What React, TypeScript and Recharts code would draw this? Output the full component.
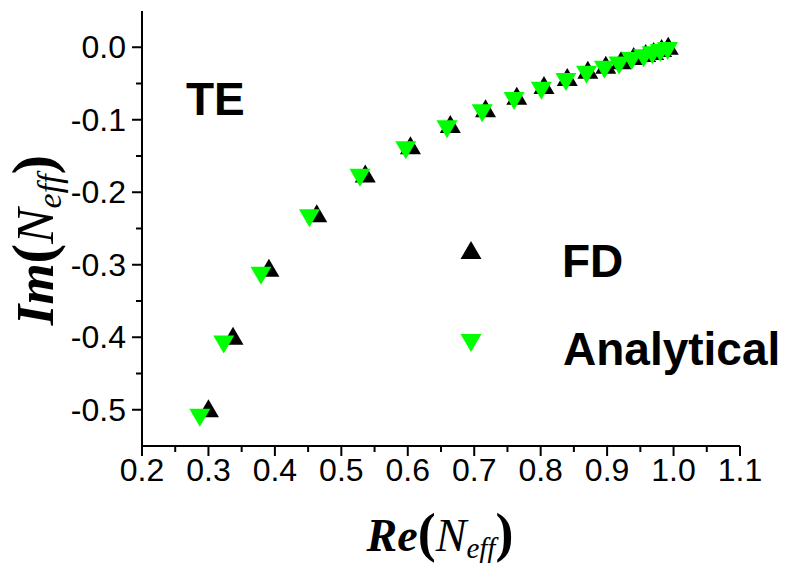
import React from 'react'
import { ScatterChart, Scatter, XAxis, YAxis } from 'recharts'

// FD (finite difference) results, black up-triangles
const fdRe = [0.300, 0.337, 0.391, 0.463, 0.536, 0.604, 0.664, 0.717, 0.764, 0.805, 0.840, 0.871, 0.898, 0.921, 0.940, 0.958, 0.970, 0.982, 0.992]
const fdIm = [-0.498, -0.398, -0.304, -0.229, -0.174, -0.135, -0.106, -0.084, -0.067, -0.052, -0.041, -0.031, -0.024, -0.018, -0.012, -0.008, -0.005, -0.001, 0.002]

// analytical results, green down-triangles
const anRe = [0.287, 0.323, 0.379, 0.452, 0.528, 0.597, 0.659, 0.712, 0.760, 0.801, 0.838, 0.869, 0.896, 0.918, 0.937, 0.955, 0.968, 0.980, 0.991]
const anIm = [-0.511, -0.410, -0.315, -0.236, -0.180, -0.142, -0.113, -0.091, -0.074, -0.060, -0.048, -0.038, -0.031, -0.025, -0.019, -0.015, -0.011, -0.008, -0.005]

const xTicks = [0.2, 0.25, 0.3, 0.35, 0.4, 0.45, 0.5, 0.55, 0.6, 0.65, 0.7, 0.75, 0.8, 0.85, 0.9, 0.95, 1.0, 1.05, 1.1]
const yTicks = [-0.5, -0.45, -0.4, -0.35, -0.3, -0.25, -0.2, -0.15, -0.1, -0.05, 0]

const seriesNames = ['FD', 'Analytical']
const seriesColors = ['#000000', '#00ff00']
const modeLabel = 'TE'

const fdData = fdRe.map((x, i) => ({ x, y: fdIm[i] }))
const anData = anRe.map((x, i) => ({ x, y: anIm[i] }))

const SANS = '"Liberation Sans", Arial, sans-serif'
const SERIF = '"Liberation Serif", "Times New Roman", serif'
const TRI_W = 21
const TRI_H = 18

function triPath(cx: number, cy: number, up: boolean) {
  const hw = TRI_W / 2
  const hh = TRI_H / 2
  return up
    ? `M${cx},${cy - hh}L${cx + hw},${cy + hh}L${cx - hw},${cy + hh}Z`
    : `M${cx},${cy + hh}L${cx + hw},${cy - hh}L${cx - hw},${cy - hh}Z`
}

const isMajor = (v: number) => Math.abs(v * 10 - Math.round(v * 10)) < 1e-6

function XTick({ x, y, payload }: any) {
  const major = isMajor(payload.value)
  return (
    <g>
      <line x1={x} x2={x} y1={y} y2={y + (major ? 10 : 6)} stroke="#000" strokeWidth={2} />
      {major && (
        <text x={x} y={y + 35} textAnchor="middle" fontSize={32} fontFamily={SANS} fill="#000">
          {payload.value.toFixed(1)}
        </text>
      )}
    </g>
  )
}

function YTick({ x, y, payload }: any) {
  const major = isMajor(payload.value)
  return (
    <g>
      <line x1={x - (major ? 10 : 6)} x2={x} y1={y} y2={y} stroke="#000" strokeWidth={2} />
      {major && (
        <text x={x - 16} y={y + 11} textAnchor="end" fontSize={32} fontFamily={SANS} fill="#000">
          {payload.value.toFixed(1)}
        </text>
      )}
    </g>
  )
}

const upShape = (p: any) => <path d={triPath(p.cx, p.cy, true)} fill={seriesColors[0]} />
const downShape = (p: any) => <path d={triPath(p.cx, p.cy, false)} fill={seriesColors[1]} />

export default function App() {
  return (
    <div style={{ position: 'absolute', left: 0, top: 0, background: '#fff' }}>
      <ScatterChart width={785} height={563} margin={{ top: 11, right: 45, bottom: 0, left: 0 }}>
        <XAxis
          type="number" dataKey="x" domain={[0.2, 1.1]} ticks={xTicks} interval={0}
          height={117} tickSize={0} tickMargin={0} tickLine={false}
          axisLine={{ stroke: '#000', strokeWidth: 2 }} tick={<XTick />} allowDataOverflow
        />
        <YAxis
          type="number" dataKey="y" domain={[-0.55, 0.05]} ticks={yTicks} interval={0}
          width={142} tickSize={0} tickMargin={0} tickLine={false}
          axisLine={{ stroke: '#000', strokeWidth: 2 }} tick={<YTick />} allowDataOverflow
        />
        <Scatter name={seriesNames[0]} data={fdData} shape={upShape} isAnimationActive={false} />
        <Scatter name={seriesNames[1]} data={anData} shape={downShape} isAnimationActive={false} />

        <text x={186} y={115} fontSize={46} fontWeight="bold" fontFamily={SANS} fill="#000">{modeLabel}</text>

        {/* legend */}
        <path d={triPath(471, 250, true)} fill={seriesColors[0]} />
        <text x={562} y={277} fontSize={46} fontWeight="bold" fontFamily={SANS} fill="#000">{seriesNames[0]}</text>
        <path d={triPath(471, 343, false)} fill={seriesColors[1]} />
        <text x={563} y={365} fontSize={46} fontWeight="bold" fontFamily={SANS} fill="#000">{seriesNames[1]}</text>

        {/* axis titles */}
        <text x={440} y={551} textAnchor="middle" fontFamily={SERIF} fill="#000">
          <tspan fontSize={46} fontWeight="bold" fontStyle="italic">Re</tspan>
          <tspan fontSize={54} fontWeight="bold">(</tspan>
          <tspan fontSize={46} fontStyle="italic">N</tspan>
          <tspan fontSize={29} fontStyle="italic" dy={7}>eff</tspan>
          <tspan fontSize={54} fontWeight="bold" dy={-7}>)</tspan>
        </text>
        <text transform="translate(53,240) rotate(-90)" textAnchor="middle" fontFamily={SERIF} fill="#000">
          <tspan fontSize={53} fontWeight="bold" fontStyle="italic">Im</tspan>
          <tspan fontSize={59} fontWeight="bold">(</tspan>
          <tspan fontSize={53} fontStyle="italic">N</tspan>
          <tspan fontSize={34} fontStyle="italic" dy={8}>eff</tspan>
          <tspan fontSize={59} fontWeight="bold" dy={-8}>)</tspan>
        </text>
      </ScatterChart>
    </div>
  )
}
